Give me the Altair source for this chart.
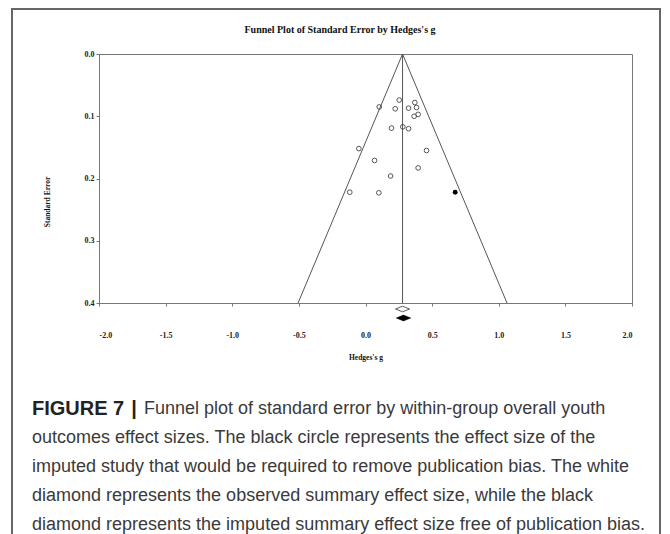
import altair as alt
import pandas as pd

# Study effect sizes (Hedges's g) and standard errors
g_obs = [0.103, 0.253, 0.370, 0.383, 0.223, 0.323, 0.365, 0.395, 0.195, 0.280,
         0.323, -0.050, 0.458, 0.068, 0.395, 0.188, -0.118, 0.100]
se_obs = [0.085, 0.074, 0.078, 0.086, 0.088, 0.087, 0.100, 0.097, 0.119, 0.117,
          0.120, 0.152, 0.155, 0.171, 0.183, 0.196, 0.222, 0.223]
g_imputed = [0.673]
se_imputed = [0.222]
summary_observed = 0.278
summary_imputed = 0.285
se_max = 0.4
z = 1.96

x_ticks = [-2.0, -1.5, -1.0, -0.5, 0.0, 0.5, 1.0, 1.5, 2.0]
y_ticks = [0.0, 0.1, 0.2, 0.3, 0.4]

title_text = "Funnel Plot of Standard Error by Hedges's g"
x_title = "Hedges's g"
y_title = "Standard Error"
caption_bold = "FIGURE 7"
caption_sep = "|"
caption_lines = [
    "Funnel plot of standard error by within-group overall youth",
    "outcomes effect sizes. The black circle represents the effect size of the",
    "imputed study that would be required to remove publication bias. The white",
    "diamond represents the observed summary effect size, while the black",
    "diamond represents the imputed summary effect size free of publication bias.",
]

W, H = 533, 249
PL, PT = 91, 46
TOTAL_W, TOTAL_H = 654, 526

xscale = alt.Scale(domain=[-2, 2], nice=False, zero=False)
yscale = alt.Scale(domain=[0, se_max], reverse=True, nice=False, zero=False)

serif = "Liberation Serif"
axis_common = dict(
    labelFont=serif, labelFontSize=8, labelFontWeight="bold", labelColor="#222",
    domainColor="#777", tickColor="#777", tickSize=3, grid=False, title=None,
)

obs_df = pd.DataFrame({"g": g_obs, "se": se_obs})
imp_df = pd.DataFrame({"g": g_imputed, "se": se_imputed})
funnel_df = pd.DataFrame({
    "g": [summary_observed - z * se_max, summary_observed, summary_observed + z * se_max],
    "se": [se_max, 0.0, se_max],
    "o": [0, 1, 2],
})
center_df = pd.DataFrame({"g": [summary_observed], "se": [0.0], "se2": [se_max]})
diam_df = pd.DataFrame({"g": [summary_observed, summary_imputed], "kind": ["obs", "imp"]})
one = pd.DataFrame({"a": [0]})

funnel = alt.Chart(funnel_df).mark_line(color="#555", strokeWidth=1).encode(
    x=alt.X("g:Q", scale=xscale,
            axis=alt.Axis(values=x_ticks, format=".1f", labelPadding=25,
                          labelExpr="replace(datum.label, '\u2212', '-')", **axis_common)),
    y=alt.Y("se:Q", scale=yscale,
            axis=alt.Axis(values=y_ticks, format=".1f", labelPadding=2, **axis_common)),
    order="o:Q",
)

center = alt.Chart(center_df).mark_rule(color="#555", strokeWidth=1).encode(
    x=alt.X("g:Q", scale=xscale), y=alt.Y("se:Q", scale=yscale), y2="se2:Q"
)

pts = alt.Chart(obs_df).mark_point(shape="circle", filled=False, color="#444",
                                   size=22, strokeWidth=0.9, opacity=1).encode(
    x=alt.X("g:Q", scale=xscale), y=alt.Y("se:Q", scale=yscale)
)

imp = alt.Chart(imp_df).mark_point(shape="circle", filled=True, color="#000",
                                   size=24, opacity=1).encode(
    x=alt.X("g:Q", scale=xscale), y=alt.Y("se:Q", scale=yscale)
)

diamond_path = "M -1 0 L 0 -0.4 L 1 0 L 0 0.4 Z"
diam_obs = alt.Chart(diam_df).transform_filter("datum.kind == 'obs'").mark_point(
    shape=diamond_path, size=196, filled=True, fill="white", stroke="#333",
    strokeWidth=0.8, opacity=1
).encode(x=alt.X("g:Q", scale=xscale), y=alt.value(255))

diam_imp = alt.Chart(diam_df).transform_filter("datum.kind == 'imp'").mark_point(
    shape=diamond_path, size=210, filled=True, fill="black", stroke="black",
    strokeWidth=0.5, opacity=1
).encode(x=alt.X("g:Q", scale=xscale), y=alt.value(264))

# outer frame (page coordinates shifted to plot origin at 99, 54)
frame = alt.Chart(one).mark_rect(fill=None, stroke="#666", strokeWidth=2).encode(
    x=alt.value(12 - 99), x2=alt.value(660 - 99),
    y=alt.value(9 - 54), y2=alt.value(600),
)

title = alt.Chart(one).mark_text(
    text=title_text, font=serif, fontSize=10, fontWeight="bold", color="#111",
    align="center", baseline="middle"
).encode(x=alt.value(340 - 99), y=alt.value(30 - 54))

xt = alt.Chart(one).mark_text(
    text=x_title, font=serif, fontSize=7.5, fontWeight="bold", color="#111",
    align="center", baseline="middle"
).encode(x=alt.value(366 - 99), y=alt.value(358 - 54))

yt = alt.Chart(one).mark_text(
    text=y_title, font=serif, fontSize=7.5, fontWeight="bold", color="#111",
    align="center", baseline="middle", angle=270
).encode(x=alt.value(48 - 99), y=alt.value(202 - 54))

cap_font = "Liberation Sans"
cap_size = 18
cap_color = "#3a3a3a"
cap_x = 32 - 99
cap_y0 = 409 - 54
cap_dy = 29

cap_layers = [
    alt.Chart(one).mark_text(
        text=caption_bold, font=cap_font, fontSize=20, fontWeight="bold",
        color="#222", align="left", baseline="middle"
    ).encode(x=alt.value(cap_x), y=alt.value(cap_y0)),
    alt.Chart(one).mark_text(
        text=caption_sep, font=cap_font, fontSize=20, fontWeight="bold",
        color="#222", align="center", baseline="middle"
    ).encode(x=alt.value(134 - 99), y=alt.value(cap_y0)),
]
for i, line in enumerate(caption_lines):
    xx = (144 - 99) if i == 0 else cap_x
    cap_layers.append(
        alt.Chart(one).mark_text(
            text=line, font=cap_font, fontSize=cap_size, color=cap_color,
            align="left", baseline="middle"
        ).encode(x=alt.value(xx), y=alt.value(cap_y0 + i * cap_dy))
    )

chart = alt.layer(
    frame, funnel, center, pts, imp, diam_obs, diam_imp, title, xt, yt, *cap_layers
).properties(
    width=W, height=H,
    autosize=alt.AutoSizeParams(type="none"),
    padding={"left": PL, "top": PT, "right": TOTAL_W - PL - W, "bottom": TOTAL_H - PT - H},
).configure_view(stroke="#777", strokeWidth=1)

chart.save("out.html", embed_options={"renderer": "svg", "actions": False})
